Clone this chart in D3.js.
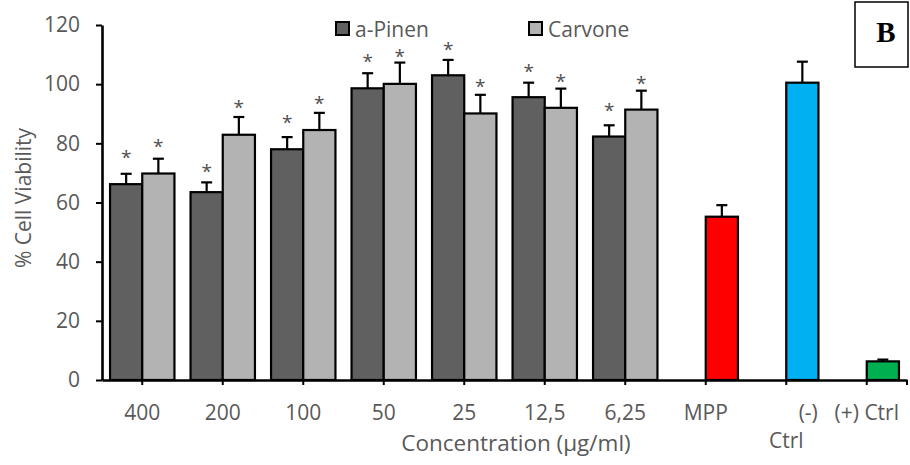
<!DOCTYPE html>
<html lang="en">
  <head>
    <meta charset="UTF-8" />
    <title>Cell viability - a-Pinen / Carvone</title>
    <script src="https://d3js.org/d3.v7.min.js"></script>
    <style>
      body {
        margin: 0;
        background-color: white;
      }
      svg text {
        font-family: "Open Sans", sans-serif;
        fill: #595959;
      }
      .axis path,
      .axis line {
        stroke: black;
      }
      .star {
        fill: #505050;
      }
    </style>
  </head>
  <body>
    <svg id="chart" width="910" height="465"></svg>
    <script>
      // data
      const categories = ["400", "200", "100", "50", "25", "12,5", "6,25", "MPP", "(-) Ctrl", "(+) Ctrl"];
      const aPinen = [66.2, 63.5, 78.0, 98.6, 103.0, 95.6, 82.3];
      const aPinenErr = [3.5, 3.3, 4.1, 5.1, 5.2, 4.9, 3.8];
      const carvone = [69.8, 82.9, 84.5, 100.1, 90.1, 92.0, 91.4];
      const carvoneErr = [5.0, 6.0, 5.8, 7.2, 6.3, 6.5, 6.4];
      // heights (in % units) where the "*" marks sit
      const aPinenStar = [76.4, 71.5, 88.2, 108.8, 113.0, 105.6, 92.2];
      const carvoneStar = [80.1, 93.3, 94.7, 110.5, 100.3, 102.0, 101.5];
      const controls = [55.2, 100.5, 6.3];
      const controlErr = [3.9, 7.1, 0.6];
      const controlColors = ["#ff0000", "#00b0f0", "#00b050"];
      const yTicks = [0, 20, 40, 60, 80, 100, 120];
      const seriesNames = ["a-Pinen", "Carvone"];
      const seriesColors = ["#606060", "#b3b3b3"];

      const svg = d3.select("#chart");

      const x = d3.scaleBand().domain(categories).range([102, 907]).padding(0);
      const xSub = d3
        .scaleBand()
        .domain(seriesNames)
        .range([x.bandwidth() * 0.1, x.bandwidth() * 0.9]);
      const y = d3.scaleLinear().domain([0, 120]).range([380, 25]);

      // build one flat list of bars
      const bars = [];
      aPinen.forEach((v, i) =>
        bars.push({ cat: categories[i], s: "a-Pinen", v: v, e: aPinenErr[i], color: seriesColors[0], star: aPinenStar[i] })
      );
      carvone.forEach((v, i) =>
        bars.push({ cat: categories[i], s: "Carvone", v: v, e: carvoneErr[i], color: seriesColors[1], star: carvoneStar[i] })
      );
      controls.forEach((v, i) =>
        bars.push({
          cat: categories[7 + i],
          s: "Carvone",
          v: v,
          e: controlErr[i],
          color: controlColors[i],
          star: null,
        })
      );

      const barX = (d) => x(d.cat) + xSub(d.s);
      const barMid = (d) => barX(d) + xSub.bandwidth() / 2;

      // bars
      svg
        .append("g")
        .selectAll("rect")
        .data(bars)
        .join("rect")
        .attr("x", barX)
        .attr("y", (d) => y(d.v))
        .attr("width", xSub.bandwidth())
        .attr("height", (d) => y(0) - y(d.v))
        .attr("fill", (d) => d.color)
        .attr("stroke", "black")
        .attr("stroke-width", 2.2);

      // error bars (upper only)
      const err = svg.append("g").attr("stroke", "black").attr("stroke-width", 2.2);
      err
        .selectAll("line.v")
        .data(bars)
        .join("line")
        .attr("class", "v")
        .attr("x1", barMid)
        .attr("x2", barMid)
        .attr("y1", (d) => y(d.v))
        .attr("y2", (d) => y(d.v + d.e));
      err
        .selectAll("line.cap")
        .data(bars)
        .join("line")
        .attr("class", "cap")
        .attr("x1", (d) => barMid(d) - 5.5)
        .attr("x2", (d) => barMid(d) + 5.5)
        .attr("y1", (d) => y(d.v + d.e))
        .attr("y2", (d) => y(d.v + d.e));

      // significance stars
      svg
        .append("g")
        .selectAll("text")
        .data(bars.filter((d) => d.star != null))
        .join("text")
        .attr("class", "star")
        .attr("x", barMid)
        .attr("y", (d) => y(d.star) + 10)
        .attr("text-anchor", "middle")
        .style("font-size", "19px")
        .text("*");

      // y axis
      const yAxis = svg
        .append("g")
        .attr("class", "axis")
        .attr("transform", `translate(${x.range()[0]},0)`)
        .call(d3.axisLeft(y).tickValues(yTicks).tickSize(6).tickSizeOuter(0).tickPadding(16));
      yAxis.select(".domain").attr("stroke-width", 2.6);
      yAxis.selectAll(".tick line").attr("stroke-width", 2);
      yAxis.selectAll("text").style("font-size", "21px").attr("fill", "#595959");

      // x axis
      const xAxis = svg
        .append("g")
        .attr("class", "axis")
        .attr("transform", `translate(0,${y(0)})`)
        .call(d3.axisBottom(x).tickSize(5).tickSizeOuter(0).tickPadding(20));
      xAxis.select(".domain").attr("stroke-width", 2.6);
      xAxis.selectAll(".tick line").attr("stroke-width", 2);
      xAxis.selectAll("text").style("font-size", "21px").attr("fill", "#595959");
      // wrap the "(-) Ctrl" label like the original
      xAxis
        .selectAll(".tick text")
        .filter((d) => d === "(-) Ctrl")
        .text(null)
        .call((t) => {
          t.append("tspan").attr("x", 22).text("(-)");
          t.append("tspan").attr("x", 0).attr("dy", "1.33em").text("Ctrl");
        });
      xAxis
        .append("line")
        .attr("x1", x.range()[1])
        .attr("x2", x.range()[1])
        .attr("y1", 0)
        .attr("y2", 5)
        .attr("stroke", "black")
        .attr("stroke-width", 2);

      // axis titles
      svg
        .append("text")
        .attr("transform", "translate(31,198) rotate(-90)")
        .attr("text-anchor", "middle")
        .style("font-size", "21px")
        .text("% Cell Viability");
      svg
        .append("text")
        .attr("x", 516)
        .attr("y", 451)
        .attr("text-anchor", "middle")
        .style("font-size", "22.5px")
        .text("Concentration (µg/ml)");

      // legend
      const legendX = [336, 529];
      const legend = svg
        .append("g")
        .selectAll("g")
        .data(seriesNames)
        .join("g")
        .attr("transform", (d, i) => `translate(${legendX[i]},22)`);
      legend
        .append("rect")
        .attr("width", 13)
        .attr("height", 13)
        .attr("fill", (d, i) => seriesColors[i])
        .attr("stroke", "black")
        .attr("stroke-width", 2);
      legend
        .append("text")
        .attr("x", 19)
        .attr("y", 14.5)
        .style("font-size", "21px")
        .text((d) => d);

      // panel letter
      svg
        .append("rect")
        .attr("x", 855)
        .attr("y", 2)
        .attr("width", 53)
        .attr("height", 65)
        .attr("fill", "white")
        .attr("stroke", "black")
        .attr("stroke-width", 1.5);
      svg
        .append("text")
        .attr("x", 886)
        .attr("y", 42)
        .attr("text-anchor", "middle")
        .style("font-family", "'Liberation Serif', serif")
        .style("font-weight", "bold")
        .style("font-size", "29px")
        .style("fill", "black")
        .text("B");
    </script>
  </body>
</html>
